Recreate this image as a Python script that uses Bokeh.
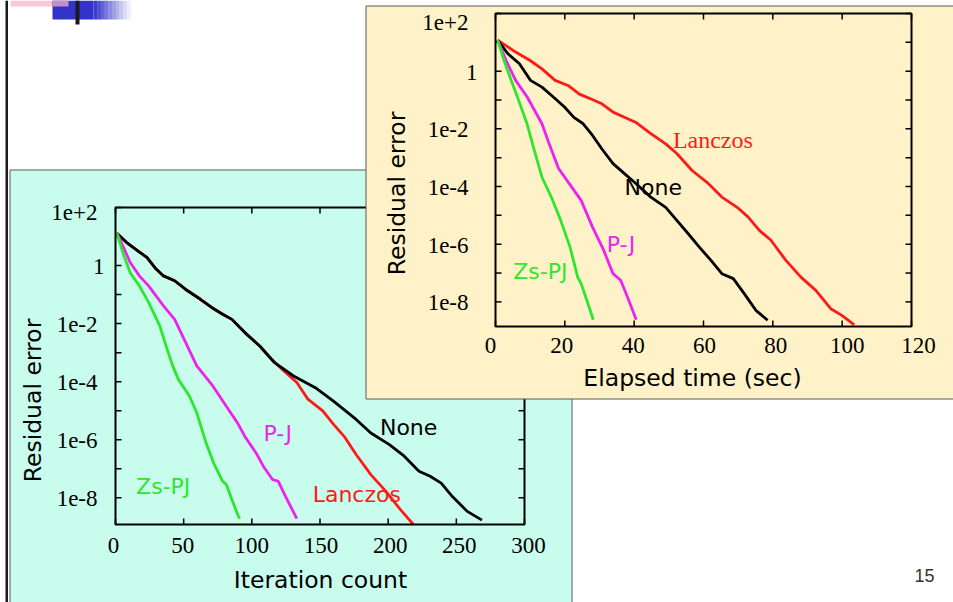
import math
from bokeh.plotting import figure
from bokeh.models import Range1d, LogScale, LinearScale
from bokeh.core.properties import value
from bokeh.embed import file_html
from bokeh.resources import INLINE

# ------------------------------------------------------------------ data
# Left chart: residual error vs iteration count
it_none_x = [1, 8.0, 16.1, 23.0, 29.8, 35.2, 43.4, 51.5, 62.3, 70.5, 78.6, 85.4, 94.9, 105.8,
             116.7, 130.3, 146.6, 160.1, 176.5, 187.3, 200.9, 211.8, 222.6, 230.8, 238.9,
             247.1, 258.0, 268.8]
it_none_y = [1.3e1, 6.3e0, 3.3e0, 1.9e0, 7.6e-1, 4.4e-1, 3.0e-1, 1.5e-1, 6.9e-2, 3.6e-2,
             2.1e-2, 1.4e-2, 4.9e-3, 1.7e-3, 4.5e-4, 1.6e-4, 6.2e-5, 2.1e-5, 5.0e-6, 1.7e-6,
             6.8e-7, 2.7e-7, 8.2e-8, 5.5e-8, 3.2e-8, 1.1e-8, 3.4e-9, 1.7e-9]
it_lanczos_x = [1, 8.0, 16.1, 23.0, 29.8, 35.2, 43.4, 51.5, 62.3, 70.5, 78.6, 85.4, 94.9, 105.8,
                114.0, 122.1, 133.0, 141.1, 152.0, 160.1, 168.3, 176.5, 187.3, 198.2, 209.0, 218.5]
it_lanczos_y = [1.3e1, 6.3e0, 3.3e0, 1.9e0, 7.6e-1, 4.4e-1, 3.0e-1, 1.5e-1, 6.9e-2, 3.6e-2,
                2.1e-2, 1.4e-2, 4.9e-3, 1.7e-3, 6.3e-4, 2.7e-4, 9.3e-5, 2.5e-5, 9.8e-6, 3.3e-6,
                1.2e-6, 3.1e-7, 6.3e-8, 1.7e-8, 3.9e-9, 1.2e-9]
it_pj_x = [1, 5.3, 10.7, 17.5, 24.3, 35.2, 43.4, 51.5, 59.6, 70.5, 81.4, 89.5, 94.9, 103.1,
           108.5, 115.3, 119.4, 124.8, 133.0]
it_pj_y = [1.3e1, 4.9e0, 1.3e0, 4.4e-1, 2.0e-1, 4.1e-2, 1.4e-2, 2.2e-3, 3.5e-4, 8.1e-5,
           1.4e-5, 3.8e-6, 1.3e-6, 3.5e-7, 1.2e-7, 4.2e-8, 3.7e-8, 1.1e-8, 1.9e-9]
it_zspj_x = [1, 5.3, 10.7, 17.5, 24.3, 32.5, 37.9, 42.0, 46.1, 54.2, 59.6, 66.4, 71.9, 78.6,
             81.4, 85.4, 90.9]
it_zspj_y = [1.3e1, 2.9e0, 5.8e-1, 2.0e-1, 5.4e-2, 8.3e-3, 1.3e-3, 3.5e-4, 1.2e-4, 3.2e-5,
             8.5e-6, 7.8e-7, 1.6e-7, 3.7e-8, 2.8e-8, 8.5e-9, 1.9e-9]

# Right chart: residual error vs elapsed time (sec)
tm_none_x = [0.6, 3.6, 6.9, 10.1, 13.4, 16.6, 19.9, 22.6, 25.3, 28.0, 30.7, 33.9, 37.2, 40.4,
             44.8, 49.1, 52.3, 55.6, 58.8, 62.1, 65.3, 68.6, 71.8, 75.1, 78.5]
tm_none_y = [1.2e1, 4.0e0, 1.8e0, 4.8e-1, 2.8e-1, 1.3e-1, 5.7e-2, 2.5e-2, 1.5e-2, 5.9e-3,
             2.0e-3, 6.2e-4, 2.8e-4, 1.3e-4, 4.3e-5, 1.9e-5, 6.7e-6, 2.3e-6, 7.9e-7, 2.8e-7,
             9.5e-8, 6.4e-8, 1.9e-8, 5.1e-9, 2.3e-9]
tm_lanczos_x = [0.6, 5.8, 10.1, 13.4, 17.2, 20.9, 24.2, 27.4, 30.7, 33.9, 38.3, 40.4, 44.8,
                49.1, 52.3, 56.7, 61.0, 65.3, 69.7, 72.9, 76.1, 79.4, 83.7, 88.1, 92.4, 96.7,
                99.9, 103.5]
tm_lanczos_y = [1.2e1, 4.6e0, 2.3e0, 1.2e0, 4.8e-1, 3.2e-1, 1.6e-1, 1.1e-1, 7.4e-2, 3.8e-2,
                2.2e-2, 1.7e-2, 6.8e-3, 3.0e-3, 1.4e-3, 3.6e-4, 1.4e-4, 4.3e-5, 1.9e-5, 8.7e-6,
                3.0e-6, 1.4e-6, 2.8e-7, 7.2e-8, 2.5e-8, 5.8e-9, 3.4e-9, 1.6e-9]
tm_pj_x = [0.6, 3.1, 5.8, 9.1, 13.4, 15.5, 18.2, 22.0, 24.7, 28.0, 31.2, 33.9, 36.1, 37.7, 40.6]
tm_pj_y = [1.2e1, 2.3e0, 4.8e-1, 1.3e-1, 1.5e-2, 3.0e-3, 4.2e-4, 9.5e-5, 3.3e-5, 3.9e-6,
           6.2e-7, 9.5e-8, 5.6e-8, 1.9e-8, 2.4e-9]
tm_zspj_x = [0.6, 2.5, 4.2, 6.3, 9.1, 11.2, 13.4, 16.1, 18.8, 21.5, 23.7, 24.7, 26.4, 28.2]
tm_zspj_y = [1.2e1, 2.3e0, 6.2e-1, 1.3e-1, 1.5e-2, 1.8e-3, 2.1e-4, 4.3e-5, 6.7e-6, 7.9e-7,
             7.2e-8, 4.3e-8, 1.1e-8, 2.4e-9]

# axes
it_xlim = [0, 300]
tm_xlim = [0, 120]
it_ylim = [1.2e-9, 1e2]
tm_ylim = [1.4e-9, 1e2]
it_xticks = [0, 50, 100, 150, 200, 250, 300]
tm_xticks = [0, 20, 40, 60, 80, 100, 120]
y_decades = [1e2, 1e1, 1e0, 1e-1, 1e-2, 1e-3, 1e-4, 1e-5, 1e-6, 1e-7, 1e-8]
y_label_vals = [1e2, 1e0, 1e-2, 1e-4, 1e-6, 1e-8]
y_label_text = ["1e+2", "1", "1e-2", "1e-4", "1e-6", "1e-8"]

series_names = ["None", "Lanczos", "P-J", "Zs-PJ"]
slide_number = "15"

# ------------------------------------------------------------------ layout / style
W, H = 953, 602
PX0, PY0 = 0, 0
PX1, PY1 = PX0 + W, PY0 + H

COLORS = {"None": "black", "Lanczos": "#ff1a1a", "P-J": "#ee22ee", "Zs-PJ": "#2ee62e"}
SANS = value("DejaVu Sans")
SERIF = value("Liberation Serif")
CYAN = "#c8fcec"
BEIGE = "#fff2c8"
PANEL_LINE = "#5a5a5a"
TICK_FS = value("23px")
TITLE_FS = value("23.5px")

IT_FRAME = dict(left=115, right=524, top=207, bottom=524)
TM_FRAME = dict(left=495, right=911, top=13, bottom=326)

p = figure(width=W, height=H, x_range=Range1d(PX0, PX1), y_range=Range1d(PY1, PY0),
           x_axis_location=None, y_axis_location=None, toolbar_location=None,
           output_backend="svg", min_border=0, outline_line_color=None,
           background_fill_color="white", border_fill_color="white")
p.grid.grid_line_color = None


def make_ranges(xlim, ylim, fr):
    kx = (fr["right"] - fr["left"]) / (xlim[1] - xlim[0])
    e0, e1 = math.log10(ylim[0]), math.log10(ylim[1])
    ky = (fr["bottom"] - fr["top"]) / (e1 - e0)
    xr = Range1d(xlim[0] - (fr["left"] - PX0) / kx, xlim[1] + (PX1 - fr["right"]) / kx)
    yr = Range1d(10 ** (e0 - (PY1 - fr["bottom"]) / ky), 10 ** (e1 + (fr["top"] - PY0) / ky))
    return xr, yr, kx, ky


it_xr, it_yr, it_kx, it_ky = make_ranges(it_xlim, it_ylim, IT_FRAME)
tm_xr, tm_yr, tm_kx, tm_ky = make_ranges(tm_xlim, tm_ylim, TM_FRAME)
p.extra_x_ranges = {"it": it_xr, "tm": tm_xr}
p.extra_y_ranges = {"it": it_yr, "tm": tm_yr}
p.extra_x_scales = {"it": LinearScale(), "tm": LinearScale()}
p.extra_y_scales = {"it": LogScale(), "tm": LogScale()}

# ---- slide decoration (top-left logo and left rule)
p.quad(left=[10], right=[68], top=[0], bottom=[6], fill_color="#f8c8d4", line_color=None)
p.quad(left=[52], right=[93], top=[0], bottom=[19], fill_color="#3333cc", line_color=None)
p.quad(left=[52], right=[68], top=[0], bottom=[6], fill_color="#c090c8", line_color=None)
steps = 10
for i in range(steps):
    t = (i + 0.5) / steps
    r = int(51 + (248 - 51) * t); g = int(51 + (248 - 51) * t); b = int(204 + (253 - 204) * t)
    x0 = 93 + (130 - 93) * i / steps
    x1 = 93 + (130 - 93) * (i + 1) / steps
    p.quad(left=[x0], right=[x1 + 0.3], top=[0], bottom=[19],
           fill_color="#%02x%02x%02x" % (r, g, b), line_color=None)
p.quad(left=[75], right=[79], top=[0], bottom=[24], fill_color="#1a1a1a", line_color=None)
p.quad(left=[5], right=[7.5], top=[0], bottom=[602], fill_color="#1a1a1a", line_color=None)


def draw_chart(rn, xlim, ylim, kx, ky, xticks, series, label_pos, label_fonts,
               ylab_dx, ylab_dx_one, ylab_dy_top, xlab_dy, xlab_spread):
    kw = dict(x_range_name=rn, y_range_name=rn)
    TL = 6
    dx = TL / kx
    fy = 10 ** (TL / ky)
    # tick marks (inward, mirrored)
    ys = y_decades
    p.segment(x0=[xlim[0]] * len(ys), x1=[xlim[0] + dx] * len(ys), y0=ys, y1=ys,
              line_color="black", line_width=1.5, **kw)
    p.segment(x0=[xlim[1]] * len(ys), x1=[xlim[1] - dx] * len(ys), y0=ys, y1=ys,
              line_color="black", line_width=1.5, **kw)
    n = len(xticks)
    p.segment(x0=xticks, x1=xticks, y0=[ylim[0]] * n, y1=[ylim[0] * fy] * n,
              line_color="black", line_width=1.5, **kw)
    p.segment(x0=xticks, x1=xticks, y0=[ylim[1]] * n, y1=[ylim[1] / fy] * n,
              line_color="black", line_width=1.5, **kw)
    # curves
    for name, (xs, yv) in series:
        p.line(xs, yv, line_color=COLORS[name], line_width=2.8, line_join="round", **kw)
    # frame
    p.quad(left=[xlim[0]], right=[xlim[1]], bottom=[ylim[0]], top=[ylim[1]],
           fill_color=None, line_color="black", line_width=2, **kw)
    # curve labels
    for name, (lx, ly) in label_pos.items():
        font, fs = label_fonts.get(name, (SANS, value("22px")))
        p.text(x=[lx], y=[ly], text=[name], text_color=COLORS[name],
               text_font=font, text_font_size=fs,
               text_align="center", text_baseline="middle", **kw)
    # tick labels
    xoffs = [-xlab_spread[0] + (xlab_spread[0] + xlab_spread[1]) * i / (n - 1) for i in range(n)]
    p.text(x=xticks, y=[ylim[0]] * n, text=[str(v) for v in xticks], x_offset=xoffs,
           y_offset=xlab_dy, text_font=SERIF, text_font_size=TICK_FS,
           text_align="center", text_baseline="middle", text_color="black", **kw)
    m = len(y_label_vals)
    p.text(x=[xlim[0]] * m, y=y_label_vals, text=y_label_text,
           x_offset=[ylab_dx_one if t == "1" else ylab_dx for t in y_label_text],
           y_offset=[ylab_dy_top if i == 0 else 1 for i in range(m)],
           text_font=SERIF, text_font_size=TICK_FS,
           text_align="right", text_baseline="middle", text_color="black", **kw)


# ---- left panel (cyan)
p.quad(left=[9.5], right=[571.5], top=[169.5], bottom=[610], fill_color=CYAN,
       line_color=PANEL_LINE, line_width=1)
draw_chart("it", it_xlim, it_ylim, it_kx, it_ky, it_xticks,
           [("Lanczos", (it_lanczos_x, it_lanczos_y)), ("None", (it_none_x, it_none_y)),
            ("P-J", (it_pj_x, it_pj_y)), ("Zs-PJ", (it_zspj_x, it_zspj_y))],
           {"None": (215, 2.6e-6), "P-J": (119, 1.7e-6), "Zs-PJ": (35, 2.4e-8),
            "Lanczos": (177, 1.3e-8)},
           {}, -18, -11, 5, 21, (2, 4))
p.text(x=[32], y=[400], text=["Residual error"], angle=math.pi / 2, text_font=SANS,
       text_font_size=TITLE_FS, text_align="center", text_baseline="middle",
       text_color="black")
p.text(x=[320], y=[579], text=["Iteration count"], text_font=SANS,
       text_font_size=TITLE_FS, text_align="center", text_baseline="middle",
       text_color="black")

# ---- right panel (beige), drawn on top
p.quad(left=[365.5], right=[960], top=[5.5], bottom=[398.5], fill_color=BEIGE,
       line_color=PANEL_LINE, line_width=1)
draw_chart("tm", tm_xlim, tm_ylim, tm_kx, tm_ky, tm_xticks,
           [("Lanczos", (tm_lanczos_x, tm_lanczos_y)), ("None", (tm_none_x, tm_none_y)),
            ("P-J", (tm_pj_x, tm_pj_y)), ("Zs-PJ", (tm_zspj_x, tm_zspj_y))],
           {"Lanczos": (62.7, 4.0e-3), "None": (45.5, 9.1e-5), "P-J": (36.2, 1.0e-6),
            "Zs-PJ": (12.95, 1.1e-7)},
           {"Lanczos": (SERIF, value("24px"))}, -27, -18, 9, 19, (5, 7))
p.text(x=[396], y=[193], text=["Residual error"], angle=math.pi / 2, text_font=SANS,
       text_font_size=TITLE_FS, text_align="center", text_baseline="middle",
       text_color="black")
p.text(x=[692], y=[377], text=["Elapsed time (sec)"], text_font=SANS,
       text_font_size=TITLE_FS, text_align="center", text_baseline="middle",
       text_color="black")

# slide number
p.text(x=[924], y=[575], text=[slide_number], text_font=value("Liberation Sans"),
       text_font_size=value("18px"), text_align="center", text_baseline="middle",
       text_color="#333333")

open("out.html", "w").write(file_html(p, INLINE))
